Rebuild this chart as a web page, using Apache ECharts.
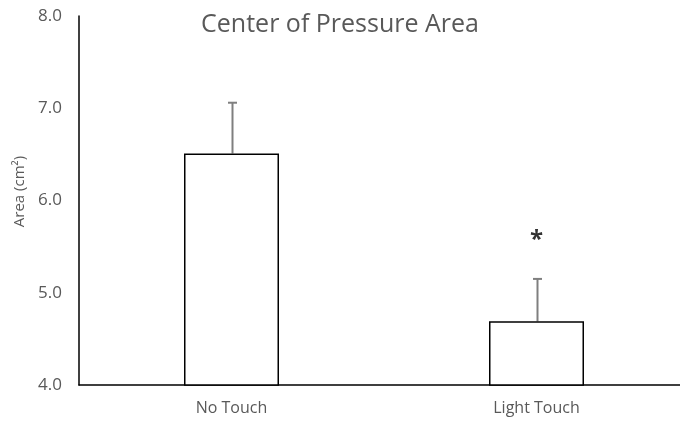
<!DOCTYPE html>
<html>
<head>
<meta charset="utf-8">
<script src="https://cdn.jsdelivr.net/npm/echarts@6/dist/echarts.min.js"></script>
<style>html,body{margin:0;padding:0;background:#fff;}#c{width:680px;height:425px;}</style>
</head>
<body>
<div id="c"></div>
<script>
var categories = ['No Touch', 'Light Touch'];
var means = [6.51, 4.69];
var errorTops = [7.06, 5.15];
var asteriskLabels = ['', '*'];
var asteriskValues = [null, 5.57];

var chart = echarts.init(document.getElementById('c'), null, {renderer: 'canvas'});
var font = '"Open Sans", "Noto Sans", sans-serif';
chart.setOption({
  animation: false,
  backgroundColor: '#ffffff',
  title: {
    text: 'Center of Pressure Area',
    left: 'center',
    top: 7,
    textStyle: {fontFamily: font, fontSize: 25, fontWeight: 'normal', color: '#595959'}
  },
  grid: {left: 79, width: 610, top: 16, bottom: 40, containLabel: false, outerBoundsMode: 'none'},
  xAxis: {
    type: 'category',
    data: categories,
    axisLine: {lineStyle: {color: '#000', width: 1.5}},
    axisTick: {show: false},
    axisLabel: {fontFamily: font, fontSize: 16, color: '#595959', margin: 15}
  },
  yAxis: {
    type: 'value',
    min: 4, max: 8, interval: 1,
    name: 'Area (cm²)',
    nameLocation: 'middle',
    nameGap: 51,
    nameTextStyle: {fontFamily: font, fontSize: 15, color: '#595959', padding: [0, 0, 0, 18]},
    axisLine: {show: true, lineStyle: {color: '#000', width: 1.5}},
    axisTick: {show: false},
    splitLine: {show: false},
    axisLabel: {fontFamily: font, fontSize: 17, color: '#595959', margin: 17,
      formatter: function (v) { return v.toFixed(1); }}
  },
  series: [
    {
      type: 'bar',
      data: means,
      barWidth: 95,
      itemStyle: {color: '#ffffff', borderColor: '#000', borderWidth: 1.5},
      z: 2
    },
    {
      type: 'custom',
      data: categories.map(function (c, i) { return [i, means[i], errorTops[i]]; }),
      renderItem: function (params, api) {
        var base = api.coord([api.value(0), api.value(1)]);
        var top = api.coord([api.value(0), api.value(2)]);
        var x = Math.round(base[0]) + 0.5;
        var st = {stroke: '#7f7f7f', lineWidth: 2};
        return {
          type: 'group',
          children: [
            {type: 'line', shape: {x1: x, y1: base[1], x2: x, y2: top[1]}, style: st},
            {type: 'line', shape: {x1: x - 4.5, y1: top[1], x2: x + 4.5, y2: top[1]}, style: st}
          ]
        };
      },
      z: 1
    },
    {
      type: 'scatter',
      data: asteriskValues.map(function (v, i) { return v === null ? null : {value: [i, v], label: {formatter: asteriskLabels[i]}}; }),
      symbolSize: 0,
      label: {show: true, position: 'inside', fontFamily: font, fontSize: 24, fontWeight: 'bold', color: '#000'},
      z: 3
    }
  ]
});
</script>
</body>
</html>
